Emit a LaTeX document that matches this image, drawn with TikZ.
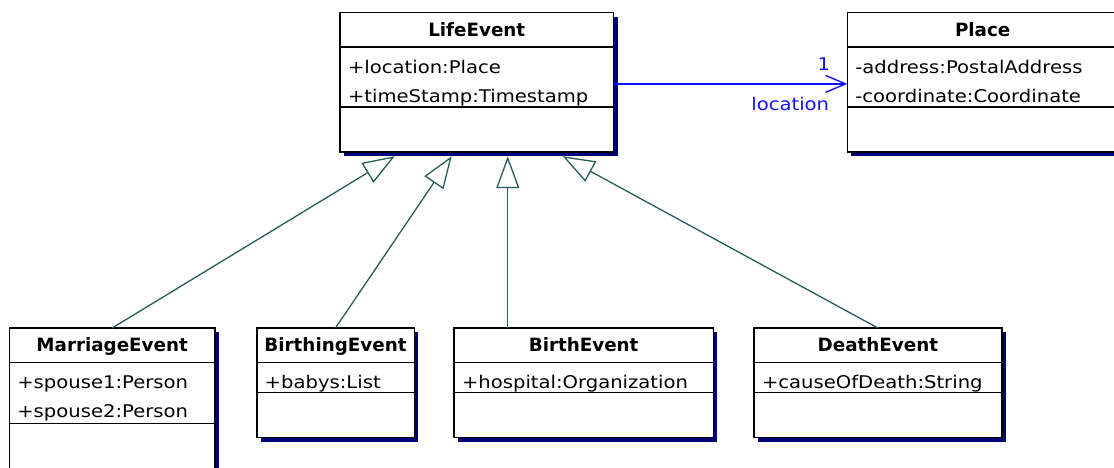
\documentclass[tikz,border=0pt]{standalone}
\usepackage{fontspec}
\setmainfont{DejaVu Sans}[FakeStretch=1.12]
\newfontfamily\titlefont{DejaVu Sans}
\usetikzlibrary{positioning}
\usetikzlibrary{arrows.meta}
\usetikzlibrary{shadows}

\definecolor{shadowblue}{RGB}{0,0,120}
\definecolor{genteal}{RGB}{40,92,92}
\definecolor{assocblue}{RGB}{20,20,250}

\tikzset{
  umlbox/.style={draw=black, line width=1.6pt, fill=white, inner sep=0pt, outer sep=0pt,
    drop shadow={shadow xshift=4pt, shadow yshift=-4pt, opacity=1, fill=shadowblue}},
  clsname/.style={umlbox, minimum height=34.5pt, text height=13.3pt, text depth=0pt,
    font=\titlefont\bfseries\fontsize{18.3}{22}\selectfont},
  clsattr/.style={umlbox, below=0pt of #1, inner xsep=8pt, text height=26pt, text depth=4pt,
    align=left, font=\fontsize{17.5}{29}\selectfont},
  clsops/.style={umlbox, below=0pt of #1, minimum height=45pt},
  generalize/.style={draw=genteal, line width=1.3pt, -{Triangle[open, length=32pt, width=23pt]}},
  assoc/.style={draw=assocblue, line width=1.4pt, -{Straight Barb[length=20pt, width=17pt]}},
  rolename/.style={text=assocblue, font=\fontsize{17.5}{20}\selectfont, inner sep=0pt, anchor=base east}
}

\begin{document}
\begin{tikzpicture}[x=1pt,y=-1pt]
\useasboundingbox (0,0) rectangle (1114,468);
\clip (0,0) rectangle (1114,468);

\node[clsname, minimum width=273.5pt, anchor=north west] (life) at (340,12.7) {LifeEvent};
\node[clsattr=life, text width=257.5pt, text depth=34pt] (life-at) {+location:Place\\+timeStamp:Timestamp};
\node[clsops=life-at, minimum width=273.5pt] (life-op) {};

\node[clsname, minimum width=270.7pt, anchor=north west] (place) at (847.3,12.7) {Place};
\node[clsattr=place, text width=254.7pt, text depth=34pt] (place-at) {-address:PostalAddress\\-coordinate:Coordinate};
\node[clsops=place-at, minimum width=270.7pt] (place-op) {};

% subclasses
\node[clsname, minimum width=205.7pt, anchor=north west] (marriage) at (9.3,328) {MarriageEvent};
\node[clsattr=marriage, text width=189.7pt, text depth=35pt] (marriage-at) {+spouse1:Person\\+spouse2:Person};
\node[clsops=marriage-at, minimum width=205.7pt, minimum height=50pt] (marriage-op) {};

\node[clsname, minimum width=157.6pt, anchor=north west] (birthing) at (256.7,328) {BirthingEvent};
\node[clsattr=birthing, text width=141.6pt] (birthing-at) {+babys:List};
\node[clsops=birthing-at, minimum width=157.6pt] (birthing-op) {};

\node[clsname, minimum width=259.3pt, anchor=north west] (birth) at (454,328) {BirthEvent};
\node[clsattr=birth, text width=243.3pt] (birth-at) {+hospital:Organization};
\node[clsops=birth-at, minimum width=259.3pt] (birth-op) {};

\node[clsname, minimum width=247.7pt, anchor=north west] (death) at (754,328) {DeathEvent};
\node[clsattr=death, text width=231.7pt] (death-at) {+causeOfDeath:String};
\node[clsops=death-at, minimum width=247.7pt] (death-op) {};

\draw[generalize] (marriage.north) -- ([xshift=-82pt,yshift=-4pt]life-op.south);
\draw[generalize] (birthing.north) -- ([xshift=-25pt,yshift=-4pt]life-op.south);
\draw[generalize] ([xshift=-75.9pt]birth.north) -- ([xshift=31pt,yshift=-4pt]life-op.south);
\draw[generalize] (death.north) -- ([xshift=86pt,yshift=-4pt]life-op.south);

\draw[assoc] ([yshift=-6.7pt]life-at.east) -- ([yshift=-6.7pt]place-at.west);
\node[rolename] (mult) at ([xshift=-17pt,yshift=6.3pt]place-at.west) {1};
\node[rolename] (role) at ([xshift=-18pt,yshift=-33pt]place-at.west) {location};
\end{tikzpicture}
\end{document}
